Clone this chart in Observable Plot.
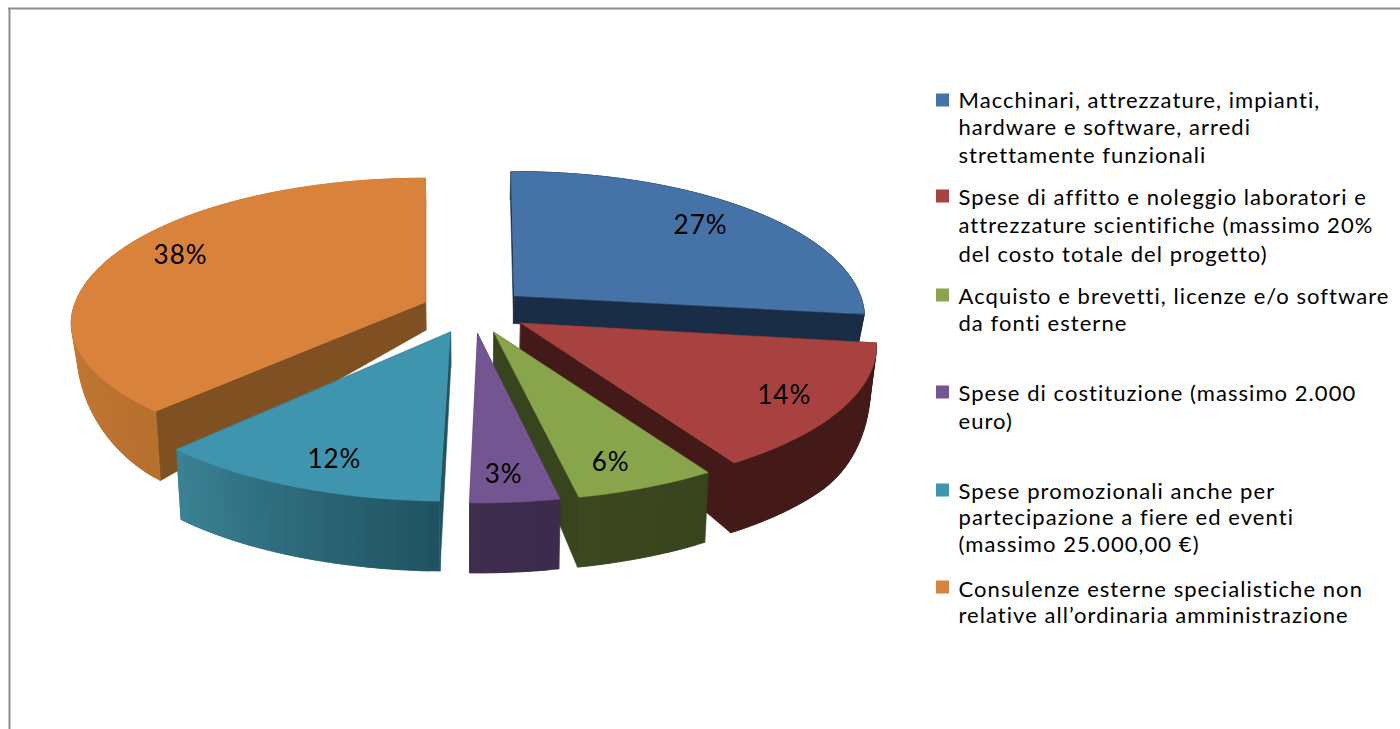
<!DOCTYPE html>
<html lang="it">
<head>
<meta charset="utf-8">
<script src="https://cdn.jsdelivr.net/npm/d3@7"></script>
<script src="https://cdn.jsdelivr.net/npm/@observablehq/plot@0.6"></script>
<style>
html,body{margin:0;padding:0;background:#fff}
svg{display:block}
.legend-text text{letter-spacing:1.05px}
.pie-label text{letter-spacing:1px}
</style>
</head>
<body>
<div id="chart"></div>
<script>
// Data
const values = [27, 14, 6, 3, 12, 38];
const labels = ["27%", "14%", "6%", "3%", "12%", "38%"];
const legendLines = [
  ["Macchinari, attrezzature, impianti,", "hardware e software, arredi", "strettamente funzionali"],
  ["Spese di affitto e noleggio laboratori e", "attrezzature scientifiche (massimo 20%", "del costo totale del progetto)"],
  ["Acquisto e brevetti, licenze e/o software", "da fonti esterne"],
  ["Spese di costituzione (massimo 2.000", "euro)"],
  ["Spese promozionali anche per", "partecipazione a fiere ed eventi", "(massimo 25.000,00 €)"],
  ["Consulenze esterne specialistiche non", "relative all’ordinaria amministrazione"]
];

// Styles
const topColors  = ["#4572a7", "#a84240", "#88a54b", "#735691", "#3f95ae", "#d8823c"];
const cutColors  = ["#1a2d47", "#441a18", "#38441d", "#3c2b4c", "#215361", "#7f5122"];
const wallFirst  = ["#1a2d47", "#441a18", "#38441d", "#3c2b4c", "#205260", "#b8702f"];
const wallLast   = ["#1a2d47", "#441a18", "#3c4820", "#3f2d4d", "#3a8295", "#cf8039"];

// Layout
const W = 1400, H = 729, cx = 472, cy = 310, Rx = 355, Ry = 143;
const persp = 0.154, explode = 0.16, inward = 0.985;
const xFactor = [0.975, 0.99, 1, 1, 1, 0.985];
const frontFactor = [1, 1, 1, 1, 1, 0.93];
const apexShift = [0, 0, 0, 0, 0, 5 / Rx];
const startTweak = [-0.6, 0.6, 0.8, -0.55, 1.5, 0];
const endTweak = [0, 0.5, -0.95, 1.1, 0, 0];
const labelRx = [0.76, 0.82, 0.78, 0.71, 0.755, 0.78];
const labelRy = [0.79, 0.87, 0.86, 0.86, 0.85, 0.93];
const legendTop = [100, 197, 296, 393, 491, 589];
const legendGap = [27.5, 28.5, 27, 28, 26.5, 26];
const swatchY = [100, 196, 295, 392, 490, 587];
const fontFamily = "Lato, 'Open Sans', sans-serif";

const toX = px => (px - cx) / Rx;
const toY = px => (px - cy) / Ry;
const proj = (u, v) => { const s = 1 / (1 - persp * v); return [u * s, v * s]; };
const depthAt = Y => { // wall height in y units, grows toward the viewer
  const t = Math.max(0, Math.min(1, (Y * Ry + cy - 300) / 120));
  return (28 + 42 * t * t * (3 - 2 * t)) / Ry;
};

const polys = [];
let pid = 0;
const addPoly = (pts, c) => { const id = pid++; pts.forEach(([x, y]) => polys.push({x, y, id, c})); };
const lower = ([x, y]) => [x * inward, y + depthAt(y)];
const texts = [];
const DEG = Math.PI / 180;

const total = d3.sum(values);
const slices = [];
let cum = 0;
values.forEach((val, i) => {
  const a0 = cum / total * 360 + startTweak[i]; cum += val; const a1 = cum / total * 360 + endTweak[i];
  const mid = (a0 + a1) / 2 * DEG;
  const ap = proj(explode * Math.sin(mid), -explode * Math.cos(mid));
  const apex = [ap[0] + apexShift[i], ap[1]];
  const rim = a => {
    const p = proj(Math.sin(a * DEG) * xFactor[i], -Math.cos(a * DEG));
    return [apex[0] + p[0], apex[1] + (p[1] > 0 ? p[1] * frontFactor[i] : p[1])];
  };
  const n = Math.max(4, Math.round((a1 - a0) / 1.5));
  const angles = d3.range(n + 1).map(k => a0 + (a1 - a0) * k / n);
  slices.push({i, a0, a1, mid, apex, rim, angles});
});

// Painter's order: back to front
[0, 5, 1, 4, 2, 3].forEach(i => {
  const {a0, a1, mid, apex, rim, angles} = slices[i];
  const rimPts = angles.map(rim);
  const last = rimPts.length - 1;
  // cut faces
  addPoly([apex, rimPts[0], lower(rimPts[0]), lower(apex)], cutColors[i]);
  addPoly([apex, rimPts[last], lower(rimPts[last]), lower(apex)], cutColors[i]);
  // outer wall: shaded strips painted so that each overlaps the next one
  const shade = d3.interpolateRgb(wallFirst[i], wallLast[i]);
  const visibleEnd = i === 5 ? 300 : a1;
  for (let k = 0; k < last; k++) {
    const t = Math.max(0, Math.min(1, ((angles[k] + angles[k + 1]) / 2 - a0) / (visibleEnd - a0)));
    const topRun = rimPts.slice(k, Math.min(k + 3, last + 1));
    addPoly([...topRun, ...topRun.map(lower).reverse()], d3.color(shade(t)).formatHex());
  }
  // top
  addPoly([apex, ...rimPts], topColors[i]);
  // label
  const c = proj(Math.sin(mid) * labelRx[i], -Math.cos(mid) * labelRy[i]);
  texts.push({x: apex[0] + c[0], y: apex[1] + c[1], t: labels[i]});
});

// Legend rows
const legendText = [], swatches = [];
legendLines.forEach((lines, i) => {
  lines.forEach((t, k) => legendText.push({x: toX(958), y: toY(legendTop[i] + k * legendGap[i]), t}));
  swatches.push({x1: toX(936), x2: toX(949), y1: toY(swatchY[i] - 6.5), y2: toY(swatchY[i] + 6.5), c: topColors[i]});
});

const chart = Plot.plot({
  width: W, height: H,
  marginTop: 0, marginRight: 0, marginBottom: 0, marginLeft: 0,
  x: {domain: [toX(0), toX(W)], range: [0, W], axis: null},
  y: {domain: [toY(0), toY(H)], range: [0, H], axis: null},
  color: {type: "identity"},
  style: {background: "#fff"},
  marks: [
    Plot.ruleY([toY(8)], {x1: toX(8), x2: toX(W), stroke: "#8c8c8c", strokeWidth: 2}),
    Plot.ruleX([toX(9)], {y1: toY(8), y2: toY(H), stroke: "#8c8c8c", strokeWidth: 2}),
    Plot.line(polys, {x: "x", y: "y", z: "id", fill: "c", stroke: "c", strokeWidth: 0.6, curve: "linear-closed"}),
    Plot.text(texts, {x: "x", y: "y", text: "t", fontSize: 26, fill: "#000", fontFamily, textAnchor: "middle", lineAnchor: "middle", className: "pie-label"}),
    Plot.rect(swatches, {x1: "x1", x2: "x2", y1: "y1", y2: "y2", fill: "c"}),
    Plot.text(legendText, {x: "x", y: "y", text: "t", fontSize: 22, fill: "#000", fontFamily, textAnchor: "start", lineAnchor: "middle", className: "legend-text"})
  ]
});
document.getElementById("chart").appendChild(chart);
</script>
</body>
</html>
